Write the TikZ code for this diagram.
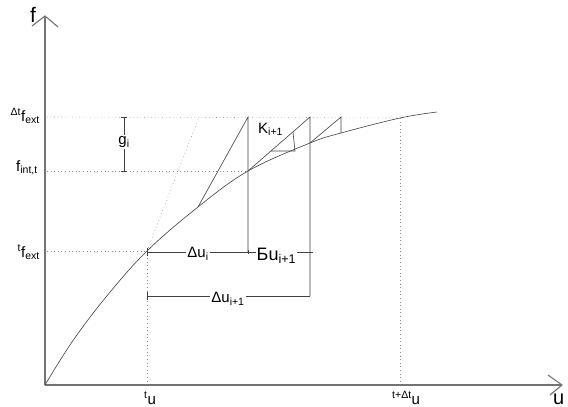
\documentclass[tikz,border=0pt]{standalone}
\usepackage{fontspec}
\setmainfont{Liberation Sans}
\begin{document}
\begin{tikzpicture}[x=1pt,y=-1pt,
  axisline/.style={draw=black!55,line width=1.1pt},
  thinline/.style={draw=black!75,line width=0.6pt},
  dotline/.style={draw=black!45,line width=0.6pt,dash pattern=on 0.6pt off 3pt},
  lbl/.style={inner sep=1pt,font=\fontsize{15}{17}\selectfont},
  wlbl/.style={lbl,fill=white}]
\useasboundingbox (0,0) rectangle (568,407);
% key points
\coordinate (O) at (45,385);
\coordinate (Ytop) at (45,16);
\coordinate (Xend) at (562,385);
\coordinate (P0) at (147,251);
\coordinate (P1) at (198,207);
\coordinate (P2) at (248,171);
\coordinate (P3) at (310,143);
\coordinate (P4) at (341,133);
\coordinate (Pe) at (400,118);
\coordinate (T1) at (248,117);
\coordinate (T2) at (310,117);
\coordinate (T3) at (341,117);
\coordinate (S) at (199,117);
% axes
\draw[axisline] (O) -- (Ytop);
\draw[axisline] (32,26) -- (Ytop) -- (58,27);
\draw[axisline] (O) -- (Xend);
\draw[axisline] (548,375) -- (Xend) -- (550,395);
\node[font=\fontsize{21}{21}\selectfont,inner sep=0pt] (flab) at (33,15) {f};
\node[font=\fontsize{20}{20}\selectfont,inner sep=0pt,anchor=base west] (ulab) at (553,404) {u};
% dotted guides
\draw[dotline] (47,117) -- (Pe);
\draw[dotline] (47,171) -- (P2);
\draw[dotline] (47,251) -- (P0);
\draw[dotline] (P0) -- (147,383);
\draw[dotline] (Pe) -- (400,383);
\draw[dotline] (P0) -- (S);
% curve
\draw[thinline] plot[smooth,tension=0.6] coordinates {(45,385) (72,342) (106,297) (147,251) (198,207) (248,171) (310,143) (341,133) (400,118) (437,112)};
% dimension lines
\draw[thinline] (147,248) -- (147,256);
\draw[thinline] (147,252) -- (313,252);
\draw[thinline] (248,250) -- (248,254);
\draw[thinline] (147,292) -- (147,300);
\draw[thinline] (147,296) -- (310,296);
\node[wlbl] (dui) at (198,254) {Δu\textsubscript{i}};
\node[wlbl] (dui1) at (228,299) {Δu\textsubscript{i+1}};
\node[inner sep=0.5pt,fill=white,font=\fontsize{18}{20}\selectfont,anchor=base west] (bu) at (256,260) {Бu\textsubscript{i+1}};
% iteration lines
\draw[thinline] (P1) -- (T1) -- (248,252);
\draw[thinline] (P2) -- (T2) -- (310,296);
\draw[thinline] (P3) -- (T3) -- (P4);
\draw[thinline] (271,151) -- (295,151) -- (293,132);
% g_i
\draw[thinline] (121,117) -- (127,117);
\draw[thinline] (121,171) -- (127,171);
\draw[thinline] (124,117) -- (124,171);
\node[wlbl] (gi) at (124,142) {g\textsubscript{i}};
% K
\node[lbl,anchor=base west] (K) at (257,133) {K\textsubscript{i+1}};
% axis labels
\node[lbl,anchor=base east] (fext2) at (41,121) {\textsuperscript{Δt}f\textsubscript{ext}};
\node[lbl,anchor=base east] (fint) at (39,171) {f\textsubscript{int,t}};
\node[lbl,anchor=base east] (fext1) at (41,257) {\textsuperscript{t}f\textsubscript{ext}};
\node[lbl,anchor=base west] (tu) at (143,404) {\textsuperscript{t}u};
\node[lbl,anchor=base west] (tdtu) at (391,404) {\textsuperscript{t+Δt}u};
\end{tikzpicture}
\end{document}
